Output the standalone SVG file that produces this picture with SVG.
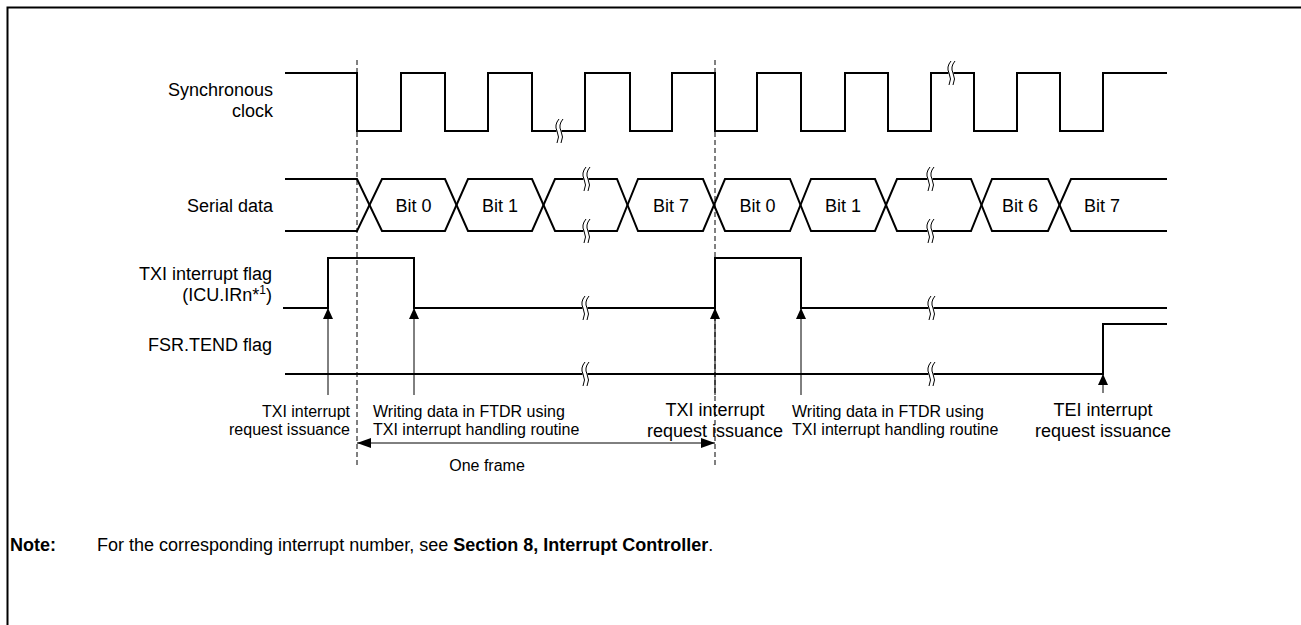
<svg xmlns="http://www.w3.org/2000/svg" width="1301" height="625" viewBox="0 0 1301 625">
<style>
text{font-family:"Liberation Sans",Arial,sans-serif;fill:#000}
.l{font-size:18px}
.s{font-size:16px}
.r{text-anchor:end}
.m{text-anchor:middle}
.sig{fill:none;stroke:#000;stroke-width:2;stroke-linejoin:miter}
.thin{fill:none;stroke:#000;stroke-width:1}
.dash{fill:none;stroke:#000;stroke-width:1;stroke-dasharray:5 3}
.brkw{fill:#fff;stroke:none}
.brkc{fill:none;stroke:#000;stroke-width:1}
</style>
<defs>
<marker id="up" viewBox="0 0 11 10" refX="11" refY="5" markerWidth="11" markerHeight="10" markerUnits="userSpaceOnUse" orient="auto">
<path d="M0,0 L11,5 L0,10 z" fill="#000"/>
</marker>
<marker id="fr" viewBox="0 0 14 10" refX="14" refY="5" markerWidth="14" markerHeight="10" markerUnits="userSpaceOnUse" orient="auto-start-reverse">
<path d="M0,0 L14,5 L0,10 z" fill="#000"/>
</marker>
<g id="brk">
<rect class="brkw" x="-2.5" y="-4" width="5" height="8"/>
<path class="brkc" d="M0,-12 Q-5,-6 -2,0 Q1,6 -2,12"/>
<path class="brkc" d="M4,-12 Q-1,-6 2,0 Q5,6 2,12"/>
</g>
</defs>

<g id="frame">
<path d="M7.5,625 V7.5 H1301" fill="none" stroke="#000" stroke-width="2"/>
</g>

<g id="guides">
<line class="dash" x1="357" y1="60" x2="357" y2="465"/>
<line class="dash" x1="715" y1="60" x2="715" y2="465"/>
</g>

<g id="clock">
<text class="l r" x="273" y="96">Synchronous</text>
<text class="l r" x="273" y="117">clock</text>
<path class="sig" d="M285,73 H357 V131 H401 V73 H445 V131 H488 V73 H532 V131 H585 V73 H630 V131 H672 V73 H715 V131 H757 V73 H801 V131 H845 V73 H888 V131 H931 V73 H974 V131 H1017 V73 H1060 V131 H1103 V73 H1167"/>
<use href="#brk" x="559" y="131"/>
<use href="#brk" x="951" y="73"/>
</g>

<g id="serial-data">
<text class="l r" x="273" y="212">Serial data</text>
<path class="sig" d="M285,179 H357 L382,231 H445 L468,179 H532 L555,231 H617 L638,179 H703 L725,231 H790 L811,179 H875 L897,231 H971 L992,179 H1048 L1071,231 H1167"/>
<path class="sig" d="M285,231 H357 L382,179 H445 L468,231 H532 L555,179 H617 L638,231 H703 L725,179 H790 L811,231 H875 L897,179 H971 L992,231 H1048 L1071,179 H1167"/>
<use href="#brk" x="586" y="179"/>
<use href="#brk" x="586" y="231"/>
<use href="#brk" x="930" y="179"/>
<use href="#brk" x="930" y="231"/>
<text class="l m" x="413.5" y="212">Bit 0</text>
<text class="l m" x="500" y="212">Bit 1</text>
<text class="l m" x="671" y="212">Bit 7</text>
<text class="l m" x="757.5" y="212">Bit 0</text>
<text class="l m" x="843" y="212">Bit 1</text>
<text class="l m" x="1020" y="212">Bit 6</text>
<text class="l m" x="1102" y="212">Bit 7</text>
</g>

<g id="txi-flag">
<text class="l r" x="272" y="280">TXI interrupt flag</text>
<text class="l r" x="272" y="301">(ICU.IRn*<tspan font-size="12" dy="-7">1</tspan><tspan dy="7">)</tspan></text>
<path class="sig" d="M283,308 H328 V258 H414 V308 H715 V258 H801 V308 H1167"/>
<use href="#brk" x="585" y="308"/>
<use href="#brk" x="931" y="308"/>
</g>

<g id="tend-flag">
<text class="l r" x="272" y="351">FSR.TEND flag</text>
<path class="sig" d="M285,374 H1103 V324 H1167"/>
<use href="#brk" x="585" y="374"/>
<use href="#brk" x="931" y="374"/>
</g>

<g id="connectors">
<line class="thin" x1="328" y1="395" x2="328" y2="308" marker-end="url(#up)"/>
<line class="thin" x1="414" y1="395" x2="414" y2="308" marker-end="url(#up)"/>
<line class="thin" x1="715" y1="395" x2="715" y2="308" marker-end="url(#up)"/>
<line class="thin" x1="801" y1="395" x2="801" y2="308" marker-end="url(#up)"/>
<line class="thin" x1="1103" y1="393" x2="1103" y2="374" marker-end="url(#up)"/>
<line class="thin" x1="357" y1="443" x2="715" y2="443" marker-start="url(#fr)" marker-end="url(#fr)"/>
</g>

<g id="label-txi1">
<text class="s r" x="350" y="417">TXI interrupt</text>
<text class="s r" x="350" y="435">request issuance</text>
</g>
<g id="label-write1">
<text class="s" x="373" y="417">Writing data in FTDR using</text>
<text class="s" x="373" y="435">TXI interrupt handling routine</text>
</g>
<g id="label-txi2">
<text class="l m" x="715" y="416">TXI interrupt</text>
<text class="l m" x="715" y="437">request issuance</text>
</g>
<g id="label-write2">
<text class="s" x="792" y="417">Writing data in FTDR using</text>
<text class="s" x="792" y="435">TXI interrupt handling routine</text>
</g>
<g id="label-tei">
<text class="l m" x="1103" y="416">TEI interrupt</text>
<text class="l m" x="1103" y="437">request issuance</text>
</g>
<g id="label-frame">
<text class="s m" x="487" y="471">One frame</text>
</g>

<g id="note">
<text class="l" x="10" y="551" font-weight="bold">Note:</text>
<text class="l" x="97" y="551">For the corresponding interrupt number, see <tspan font-weight="bold">Section 8, Interrupt Controller</tspan>.</text>
</g>
</svg>
